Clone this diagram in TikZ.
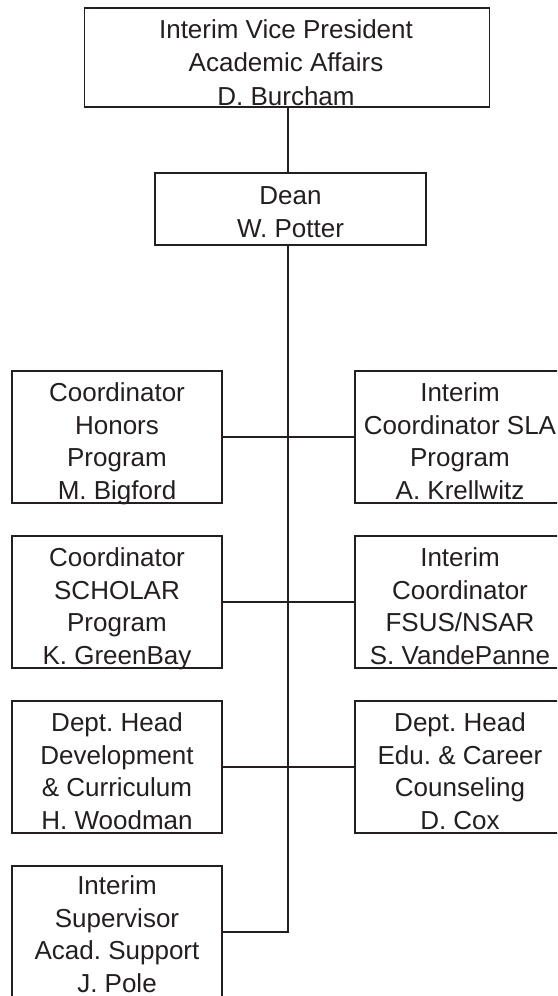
\documentclass[tikz,border=0pt]{standalone}
\usepackage{fontspec}
\setmainfont{Liberation Sans}
\frenchspacing
\definecolor{ink}{HTML}{231F20}
\newcommand{\stackln}[1]{\begin{tabular}[b]{@{}c@{}}#1\end{tabular}}
\begin{document}
\begin{tikzpicture}[x=1pt,y=-1pt,
  box/.style={draw=ink,line width=1.7pt,rectangle,inner sep=0pt,minimum width=210pt,minimum height=132pt},
  txt/.style={anchor=base,inner sep=0pt,text=ink,font=\fontsize{26}{32.5}\selectfont},
  link/.style={draw=ink,line width=1.7pt}]
\useasboundingbox (0,0) rectangle (557,996);
\clip (0,0) rectangle (557,996);
\fill[white] (0,0) rectangle (557,996);
\coordinate (tk) at (288,0);
% top
\node[box,minimum width=405pt,minimum height=99pt] (vp) at (287,57.5) {};
\node[txt,font=\fontsize{26}{33.5}\selectfont] (vpT) at (286,105) {\stackln{Interim Vice President\\Academic Affairs\\D. Burcham}};
% dean
\node[box,minimum width=271pt,minimum height=72pt] (dean) at (290.5,209) {};
\node[txt,font=\fontsize{26}{33}\selectfont] (deanT) at (290.5,237) {\stackln{Dean\\W. Potter}};
% left column
\node[box] (hon) at (117,437) {};
\node[txt] (honT) at (117,499) {\stackln{Coordinator\\Honors\\Program\\M. Bigford}};
\node[box] (sch) at (117,602) {};
\node[txt] (schT) at (117,664) {\stackln{Coordinator\\SCHOLAR\\Program\\K. GreenBay}};
\node[box] (dev) at (117,767) {};
\node[txt] (devT) at (117,829) {\stackln{Dept. Head\\Development\\\& Curriculum\\H. Woodman}};
\node[box] (sup) at (117,932) {};
\node[txt] (supT) at (117,992) {\stackln{Interim\\Supervisor\\Acad. Support\\J. Pole}};
% right column
\node[box] (sla) at (460,437) {};
\node[txt] (slaT) at (460,499) {\stackln{Interim\\Coordinator SLA\\Program\\A. Krellwitz}};
\node[box] (fsus) at (460,602) {};
\node[txt] (fsusT) at (460,664) {\stackln{Interim\\Coordinator\\FSUS/NSAR\\S. VandePanne}};
\node[box] (edu) at (460,767) {};
\node[txt] (eduT) at (460,829) {\stackln{Dept. Head\\Edu. \& Career\\Counseling\\D. Cox}};
% connectors
\draw[link] (vp.south -| tk) -- (dean.north -| tk);
\draw[link] (dean.south -| tk) |- (sup.east);
\draw[link] (hon.east) -- (sla.west);
\draw[link] (sch.east) -- (fsus.west);
\draw[link] (dev.east) -- (edu.west);
\end{tikzpicture}
\end{document}
